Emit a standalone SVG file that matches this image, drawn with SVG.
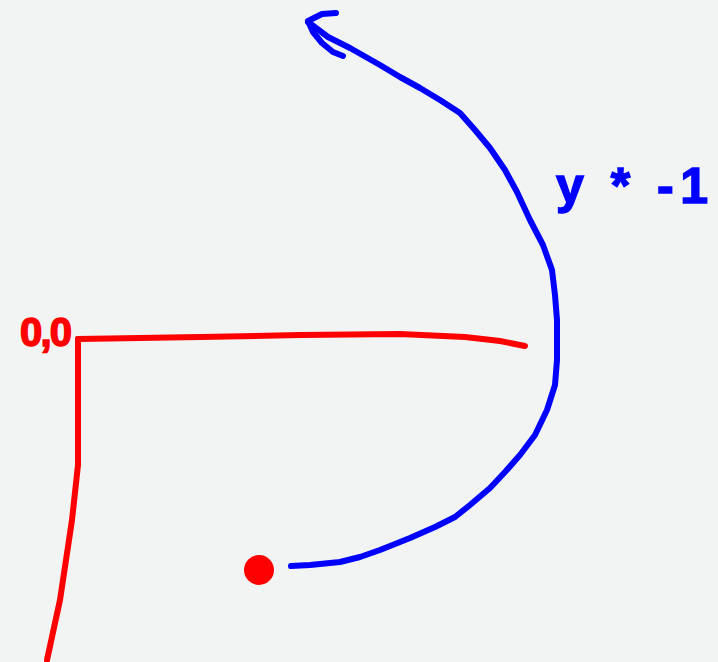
<svg xmlns="http://www.w3.org/2000/svg" width="718" height="662" viewBox="0 0 718 662">
<style>
.red{fill:none;stroke:#ff0000;stroke-width:6;stroke-linecap:round;stroke-linejoin:round}
.blue{fill:none;stroke:#0000ff;stroke-width:6;stroke-linecap:round;stroke-linejoin:round}
.lbl{font-family:"Liberation Sans",Arial,sans-serif;font-weight:bold}
</style>
<rect width="718" height="662" fill="#f1f4f3"/>
<g id="connectors">
<path id="x-axis" class="red" d="M78,339 L200,337 L300,335 L400,334 L465,337 L500,341 L525,346"/>
<path id="y-axis" class="red" d="M78,339 L78,465 L72,520 L60,600 L47,660"/>
<path id="rotation-arc" class="blue" d="M291,566 L310,565 L340,562 L360,557 L380,550 L410,538 L435,527 L455,517 L470,505 L490,488 L505,472 L520,455 L535,435 L547,410 L555,385 L557,360 L557,320 L555,295 L552,270 L543,245 L530,220 L517,192 L505,170 L490,148 L475,130 L460,113 L440,100 L420,88 L400,77 L380,65 L350,48 L328,37 L308,22"/>
<path id="arrowhead" class="blue" d="M336,13 L322,14 L308,21 L313,32 L322,43 L333,52 L343,56"/>
</g>
<g id="origin">
<text class="lbl" x="20" y="346" font-size="40" fill="#ff0000" stroke="#ff0000" stroke-width="1.5" textLength="52">0,0</text>
</g>
<g id="point">
<circle cx="259" cy="570" r="15" fill="#ff0000"/>
</g>
<g id="label-y">
<text class="lbl" x="556" y="203" font-size="50" fill="#0000ff" stroke="#0000ff" stroke-width="1.5" textLength="152">y * -1</text>
</g>
</svg>
